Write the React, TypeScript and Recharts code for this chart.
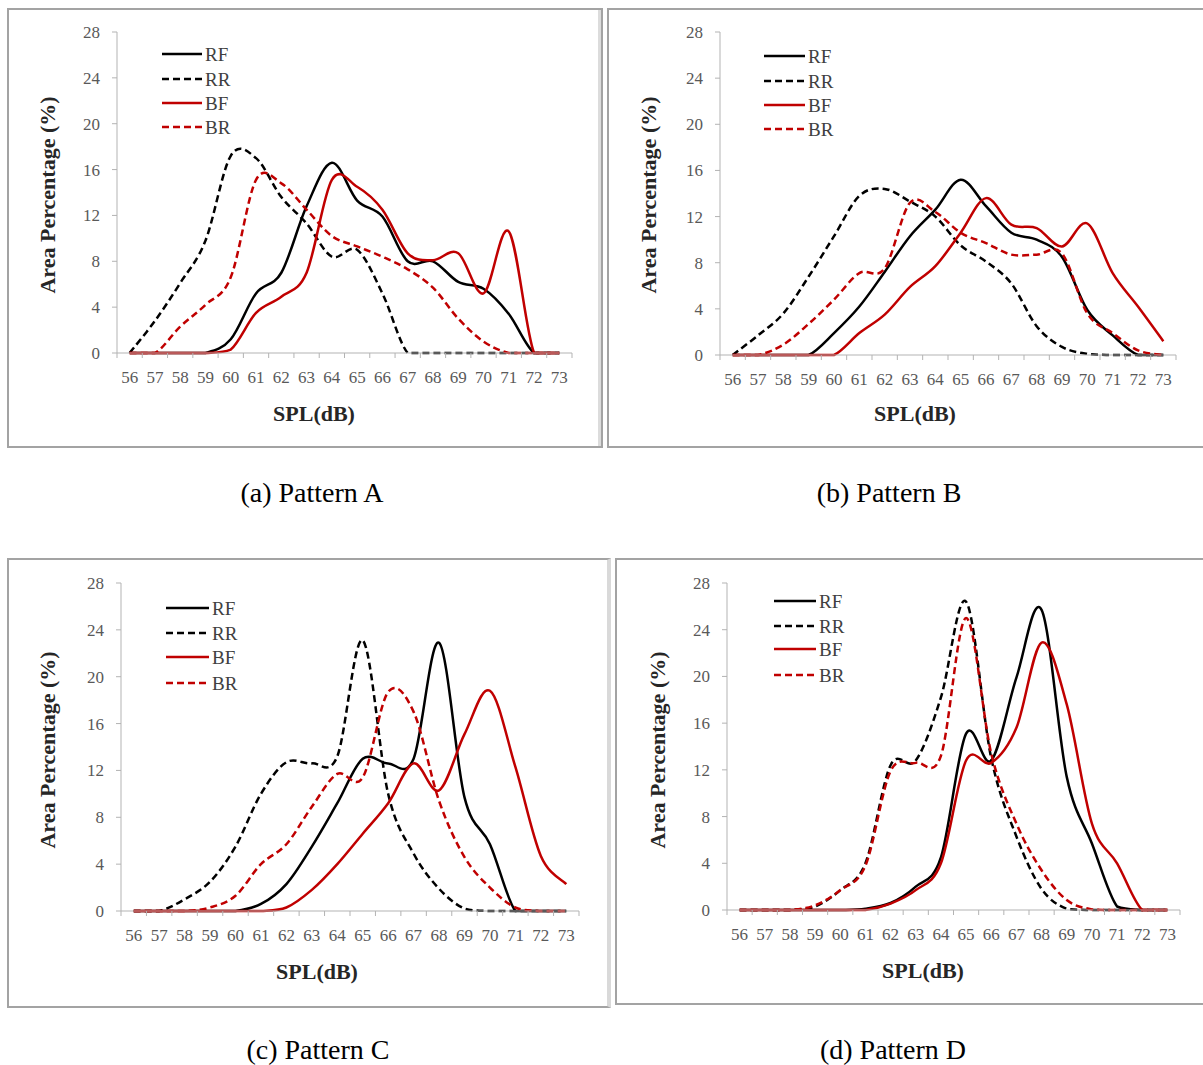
import React from 'react';
import { LineChart, Line, XAxis, YAxis } from 'recharts';

// ---------- shared categories / ticks ----------
const spl = [56, 57, 58, 59, 60, 61, 62, 63, 64, 65, 66, 67, 68, 69, 70, 71, 72, 73];
const xTickLabels = ['56', '57', '58', '59', '60', '61', '62', '63', '64', '65', '66', '67', '68', '69', '70', '71', '72', '73'];
const yTicks = [0, 4, 8, 12, 16, 20, 24, 28];
const seriesNames = ['RF', 'RR', 'BF', 'BR'];
const xTitle = 'SPL(dB)';
const yTitle = 'Area Percentage (%)';

// ---------- Pattern A ----------
const patternA_RF = [0, 0, 0, 0, 1.2, 5.2, 7.0, 12.8, 16.6, 13.3, 11.9, 8.0, 8.0, 6.2, 5.6, 3.4, 0, 0];
const patternA_RR = [0, 2.8, 6.1, 9.8, 17.2, 17.0, 13.6, 11.3, 8.4, 9.0, 5.2, 0, 0, 0, 0, 0, 0, 0];
const patternA_BF = [0, 0, 0, 0, 0.3, 3.5, 4.9, 7.0, 15.1, 14.5, 12.5, 8.7, 8.1, 8.7, 5.2, 10.6, 0, 0];
const patternA_BR = [0, 0, 2.3, 4.2, 6.6, 15.1, 14.8, 12.5, 10.2, 9.3, 8.4, 7.3, 5.7, 3.0, 1.0, 0, 0, 0];

// ---------- Pattern B ----------
const patternB_RF = [0, 0, 0, 0, 1.9, 4.2, 7.2, 10.3, 12.6, 15.2, 12.9, 10.6, 10.0, 8.5, 3.9, 1.7, 0, 0];
const patternB_RR = [0, 1.7, 3.6, 6.8, 10.3, 13.8, 14.4, 13.3, 12.0, 9.5, 8.1, 6.2, 2.5, 0.7, 0.1, 0, 0, 0];
const patternB_BF = [0, 0, 0, 0, 0, 1.9, 3.5, 5.9, 7.7, 10.6, 13.6, 11.3, 11.0, 9.4, 11.4, 7.1, 4.2, 1.2];
const patternB_BR = [0, 0, 0.9, 2.7, 4.8, 7.1, 7.5, 13.2, 12.4, 10.6, 9.7, 8.7, 8.7, 8.8, 3.6, 1.9, 0.4, 0];

// ---------- Pattern C ----------
const patternC_RF = [0, 0, 0, 0, 0, 0.6, 2.3, 5.5, 9.2, 13.0, 12.6, 13.0, 22.9, 9.7, 5.7, 0, 0, 0];
const patternC_RR = [0, 0, 1.0, 2.5, 5.5, 10.0, 12.7, 12.6, 13.2, 23.1, 10.0, 4.9, 1.9, 0.2, 0, 0, 0, 0];
const patternC_BF = [0, 0, 0, 0, 0, 0, 0.3, 1.8, 4.0, 6.6, 9.2, 12.6, 10.3, 15.1, 18.8, 12.3, 4.7, 2.3];
const patternC_BR = [0, 0, 0, 0.3, 1.3, 4.0, 5.7, 8.9, 11.7, 11.4, 18.7, 17.0, 9.4, 4.6, 2.0, 0.3, 0, 0];

// ---------- Pattern D ----------
const patternD_RF = [0, 0, 0, 0, 0, 0.1, 0.6, 2.0, 4.5, 15.1, 12.8, 19.9, 25.7, 11.4, 5.7, 0.3, 0, 0];
const patternD_RR = [0, 0, 0, 0.3, 1.7, 4.0, 12.4, 12.8, 18.2, 26.4, 13.0, 6.3, 1.8, 0.1, 0, 0, 0, 0];
const patternD_BF = [0, 0, 0, 0, 0, 0, 0.55, 1.7, 4.0, 12.8, 12.6, 15.6, 22.9, 17.6, 7.4, 4.0, 0, 0];
const patternD_BR = [0, 0, 0, 0.4, 1.7, 3.8, 11.9, 12.6, 13.2, 25.0, 13.4, 7.4, 3.4, 0.85, 0.05, 0, 0, 0];

const captions = ['(a) Pattern A', '(b) Pattern B', '(c) Pattern C', '(d) Pattern D'];

// ---------- styles ----------
const FONT = "'Liberation Serif', 'Times New Roman', 'DejaVu Serif', serif";
const RED = '#c00000';
const seriesStroke: Record<string, string> = { RF: '#000000', RR: '#000000', BF: RED, BR: RED };
const seriesDash: Record<string, string | undefined> = { RF: undefined, RR: '7 4', BF: undefined, BR: '7 4' };
const AXIS_COLOR = '#b3b3b3';
const TICK_COLOR = '#595959';

const buildRows = (rf: number[], rr: number[], bf: number[], br: number[]) =>
  spl.map((v, i) => ({ spl: v, RF: rf[i], RR: rr[i], BF: bf[i], BR: br[i] }));

// Excel-like smoothed line (uniform Catmull-Rom as cubic Bezier),
// control points kept above the lowest data point (no dip under the axis)
const excelSmooth = (context: any) => {
  let pts: number[][] = [];
  return {
    areaStart() {},
    areaEnd() {},
    lineStart() {
      pts = [];
    },
    point(x: number, y: number) {
      pts.push([+x, +y]);
    },
    lineEnd() {
      const n = pts.length;
      if (!n) return;
      let maxY = -Infinity;
      pts.forEach((p) => {
        if (p[1] > maxY) maxY = p[1];
      });
      const cy = (v: number) => Math.min(v, maxY);
      context.moveTo(pts[0][0], pts[0][1]);
      for (let i = 0; i < n - 1; i++) {
        const p0 = pts[Math.max(i - 1, 0)];
        const p1 = pts[i];
        const p2 = pts[i + 1];
        const p3 = pts[Math.min(i + 2, n - 1)];
        context.bezierCurveTo(
          p1[0] + (p2[0] - p0[0]) / 6,
          cy(p1[1] + (p2[1] - p0[1]) / 6),
          p2[0] - (p3[0] - p1[0]) / 6,
          cy(p2[1] - (p3[1] - p1[1]) / 6),
          p2[0],
          p2[1]
        );
      }
    },
  };
};

type Box = { x: number; y: number; w: number; h: number };
type Plot = { l: number; r: number; t: number; b: number };
type PanelCfg = {
  box: Box;
  border: React.CSSProperties;
  plot: Plot;
  legend: { x1: number; x2: number; tx: number; ys: number[] };
  yTitleX: number;
  yTitleY: number;
  xTitleX: number;
  xTitleY: number;
  caption: { x: number; y: number; text: string };
  rows: any[];
};

const XH = 30;

const panels: PanelCfg[] = [
  {
    box: { x: 7, y: 8, w: 596, h: 440 },
    border: { border: '2px solid #a3a3a3', boxShadow: 'inset -3px 0 0 #dcdcdc' },
    plot: { l: 117, r: 572, t: 32, b: 353 },
    legend: { x1: 162, x2: 202, tx: 205, ys: [54, 79, 103, 127] },
    yTitleX: 47,
    yTitleY: 195,
    xTitleX: 314,
    xTitleY: 413,
    caption: { x: 312, y: 492, text: captions[0] },
    rows: buildRows(patternA_RF, patternA_RR, patternA_BF, patternA_BR),
  },
  {
    box: { x: 607, y: 8, w: 600, h: 440 },
    border: { border: '2px solid #a3a3a3' },
    plot: { l: 720, r: 1176, t: 32, b: 355 },
    legend: { x1: 764, x2: 805, tx: 808, ys: [56, 81, 105, 129] },
    yTitleX: 648,
    yTitleY: 195,
    xTitleX: 915,
    xTitleY: 413,
    caption: { x: 889, y: 492, text: captions[1] },
    rows: buildRows(patternB_RF, patternB_RR, patternB_BF, patternB_BR),
  },
  {
    box: { x: 7, y: 558, w: 604, h: 450 },
    border: { borderLeft: '2px solid #a3a3a3', borderTop: '2px solid #a3a3a3', borderBottom: '2px solid #a3a3a3', borderRight: '4px solid #d9d9d9' },
    plot: { l: 121, r: 579, t: 583, b: 911 },
    legend: { x1: 166, x2: 209, tx: 212, ys: [608, 633, 657, 683] },
    yTitleX: 47,
    yTitleY: 750,
    xTitleX: 317,
    xTitleY: 971,
    caption: { x: 318, y: 1049, text: captions[2] },
    rows: buildRows(patternC_RF, patternC_RR, patternC_BF, patternC_BR),
  },
  {
    box: { x: 615, y: 558, w: 592, h: 447 },
    border: { border: '2px solid #a3a3a3' },
    plot: { l: 727, r: 1180, t: 583, b: 910 },
    legend: { x1: 774, x2: 816, tx: 819, ys: [601, 626, 649, 675] },
    yTitleX: 657,
    yTitleY: 750,
    xTitleX: 923,
    xTitleY: 970,
    caption: { x: 893, y: 1049, text: captions[3] },
    rows: buildRows(patternD_RF, patternD_RR, patternD_BF, patternD_BR),
  },
];

const boundaries = [...spl.map((v) => v - 0.5), spl[spl.length - 1] + 0.5];

function PanelChart({ cfg }: { cfg: PanelCfg }) {
  const { box, plot } = cfg;
  const band = (plot.r - plot.l) / spl.length;
  const renderXTick = (props: any) => {
    const { x, y, index } = props;
    if (index >= xTickLabels.length) return <g />;
    return (
      <text x={x + band / 2} y={y} dy="0.71em" textAnchor="middle" fill={TICK_COLOR} style={{ fontFamily: FONT, fontSize: 17 }}>
        {xTickLabels[index]}
      </text>
    );
  };
  return (
    <div style={{ position: 'absolute', left: box.x, top: box.y, width: box.w, height: box.h, fontFamily: FONT }}>
      <LineChart
        width={box.w}
        height={box.h}
        data={cfg.rows}
        style={{ fontFamily: FONT }}
        margin={{ top: plot.t - box.y, right: box.x + box.w - plot.r, bottom: box.y + box.h - plot.b - XH, left: 0 }}
      >
        <XAxis
          dataKey="spl"
          type="number"
          domain={[boundaries[0], boundaries[boundaries.length - 1]]}
          ticks={boundaries}
          interval={0}
          height={XH}
          tickSize={5}
          tickMargin={13}
          axisLine={{ stroke: AXIS_COLOR, strokeWidth: 1 }}
          tickLine={{ stroke: AXIS_COLOR, strokeWidth: 1 }}
          tick={renderXTick}
        />
        <YAxis
          type="number"
          domain={[0, 28]}
          ticks={yTicks}
          interval={0}
          width={plot.l - box.x}
          tickSize={5}
          tickMargin={12}
          axisLine={{ stroke: AXIS_COLOR, strokeWidth: 1 }}
          tickLine={{ stroke: AXIS_COLOR, strokeWidth: 1 }}
          tick={{ fontSize: 17, fill: TICK_COLOR, style: { fontFamily: FONT } }}
        />
        {seriesNames.map((name) => (
          <Line
            key={name}
            dataKey={name}
            type={excelSmooth as any}
            stroke={seriesStroke[name]}
            strokeWidth={2.5}
            strokeDasharray={seriesDash[name]}
            dot={false}
            activeDot={false}
            isAnimationActive={false}
          />
        ))}
      </LineChart>
    </div>
  );
}

function Overlay() {
  return (
    <svg width={1203} height={1065} style={{ position: 'absolute', left: 0, top: 0, pointerEvents: 'none', fontFamily: FONT }}>
      {panels.map((cfg, pi) => (
        <g key={pi} style={{ fontFamily: FONT }}>
          {seriesNames.map((name, i) => (
            <g key={name}>
              <line
                x1={cfg.legend.x1}
                x2={cfg.legend.x2}
                y1={cfg.legend.ys[i]}
                y2={cfg.legend.ys[i]}
                stroke={seriesStroke[name]}
                strokeWidth={2.5}
                strokeDasharray={seriesDash[name]}
              />
              <text x={cfg.legend.tx} y={cfg.legend.ys[i]} dominantBaseline="central" fill="#404040" style={{ fontFamily: FONT, fontSize: 19 }}>
                {name}
              </text>
            </g>
          ))}
          <text
            x={cfg.yTitleX}
            y={cfg.yTitleY}
            transform={`rotate(-90 ${cfg.yTitleX} ${cfg.yTitleY})`}
            textAnchor="middle"
            dominantBaseline="central"
            fill="#262626"
            style={{ fontFamily: FONT, fontSize: 22, fontWeight: 'bold' }}
          >
            {yTitle}
          </text>
          <text
            x={cfg.xTitleX}
            y={cfg.xTitleY}
            textAnchor="middle"
            dominantBaseline="central"
            fill="#262626"
            style={{ fontFamily: FONT, fontSize: 22, fontWeight: 'bold' }}
          >
            {xTitle}
          </text>
          <text x={cfg.caption.x} y={cfg.caption.y} textAnchor="middle" dominantBaseline="central" fill="#000000" style={{ fontFamily: FONT, fontSize: 28 }}>
            {cfg.caption.text}
          </text>
        </g>
      ))}
    </svg>
  );
}

export default function App() {
  return (
    <div style={{ position: 'absolute', left: 0, top: 0, width: 1203, height: 1065, background: '#ffffff', overflow: 'hidden', fontFamily: FONT }}>
      {panels.map((cfg, i) => (
        <div
          key={'b' + i}
          style={{ position: 'absolute', left: cfg.box.x, top: cfg.box.y, width: cfg.box.w, height: cfg.box.h, boxSizing: 'border-box', ...cfg.border }}
        />
      ))}
      {panels.map((cfg, i) => (
        <PanelChart key={'c' + i} cfg={cfg} />
      ))}
      <Overlay />
    </div>
  );
}
